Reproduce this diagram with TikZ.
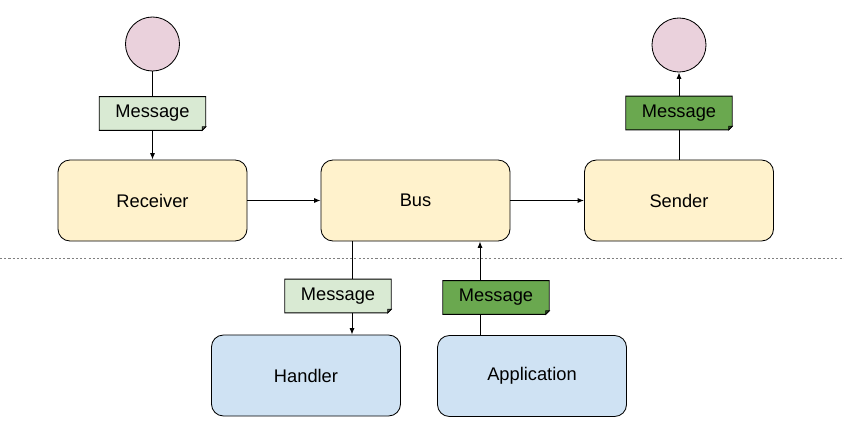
\documentclass[tikz,border=0pt]{standalone}
\usepackage{fontspec}
\setmainfont{Liberation Sans}
\usetikzlibrary{arrows.meta}
\definecolor{boxyellow}{HTML}{FFF2CC}
\definecolor{boxblue}{HTML}{CFE2F3}
\definecolor{endpink}{HTML}{EAD1DC}
\definecolor{msglight}{HTML}{D9EAD3}
\definecolor{msgdark}{HTML}{6AA84F}
\tikzset{
  stage/.style={draw, rounded corners=0.3cm, minimum width=4.725cm, minimum height=2.025cm, line width=0.6pt},
  endpoint/.style={draw, circle, fill=endpink, minimum size=1.35cm, inner sep=0pt, line width=0.6pt},
  flow/.style={line width=0.6pt},
  flowto/.style={flow, -{Latex[length=4.5pt,width=3.5pt]}},
}
\newcommand*{\MessageNote}[3]{% #1 = name, #2 = x,y, #3 = fill colour
\node [fill=#3, minimum width=2.65cm, minimum height=0.83cm, inner sep=0pt] (#1) at (#2) {Message};
\fill [white] ([xshift=-0.09cm]#1.south east) -- (#1.south east) -- ([yshift=0.09cm]#1.south east) -- cycle;
\draw [flow] (#1.north west) -- (#1.north east) -- ([yshift=0.09cm]#1.south east) -- ([xshift=-0.09cm]#1.south east) -- (#1.south west) -- cycle;
\draw [flow, fill=#3!55!black] ([yshift=0.09cm]#1.south east) -- ([xshift=-0.09cm]#1.south east) -- ([shift={(-0.09cm,0.09cm)}]#1.south east) -- cycle;
}

\begin{document}
\begin{tikzpicture}[x=0.025cm, y=-0.025cm, font=\fontsize{13}{15}\selectfont]
\useasboundingbox (0,0) rectangle (844,439);

\node [stage, fill=boxyellow] (receiver) at (152.5,200.5) {Receiver};
\node [stage, fill=boxyellow] (bus) at (415.5,200.5) {Bus};
\node [stage, fill=boxyellow] (sender) at (679,200.5) {Sender};
\node [stage, fill=boxblue] (handler) at (306,375.5) {Handler};
\node [stage, fill=boxblue] (application) at (532,376) {Application};
\node [endpoint] (source) at (152.5,44) {};
\node [endpoint] (sink) at (679,45) {};

\MessageNote{inmsg}{152.5,113.5}{msglight}
\MessageNote{outmsg}{679,113}{msgdark}
\MessageNote{handlermsg}{338,296}{msglight}
\MessageNote{appmsg}{496,297.5}{msgdark}

\coordinate (handlerline) at (352,0);
\coordinate (appline) at (480,0);

\draw [flow] (source) -- (inmsg);
\draw [flowto] (inmsg) -- (receiver);
\draw [flowto] (receiver) -- (bus);
\draw [flowto] (bus) -- (sender);
\draw [flow] (sender) -- (outmsg);
\draw [flowto] (outmsg) -- (sink);
\draw [flow] (handlerline |- bus.south) -- (handlerline |- handlermsg.north);
\draw [flowto] (handlerline |- handlermsg.south) -- (handlerline |- handler.north);
\draw [flow] (appline |- application.north) -- (appline |- appmsg.south);
\draw [flowto] (appline |- appmsg.north) -- (appline |- bus.south);

% separator
\draw [gray, dash pattern=on 1.5pt off 1.5pt] (0,258) -- (844,258);
\end{tikzpicture}
\end{document}
